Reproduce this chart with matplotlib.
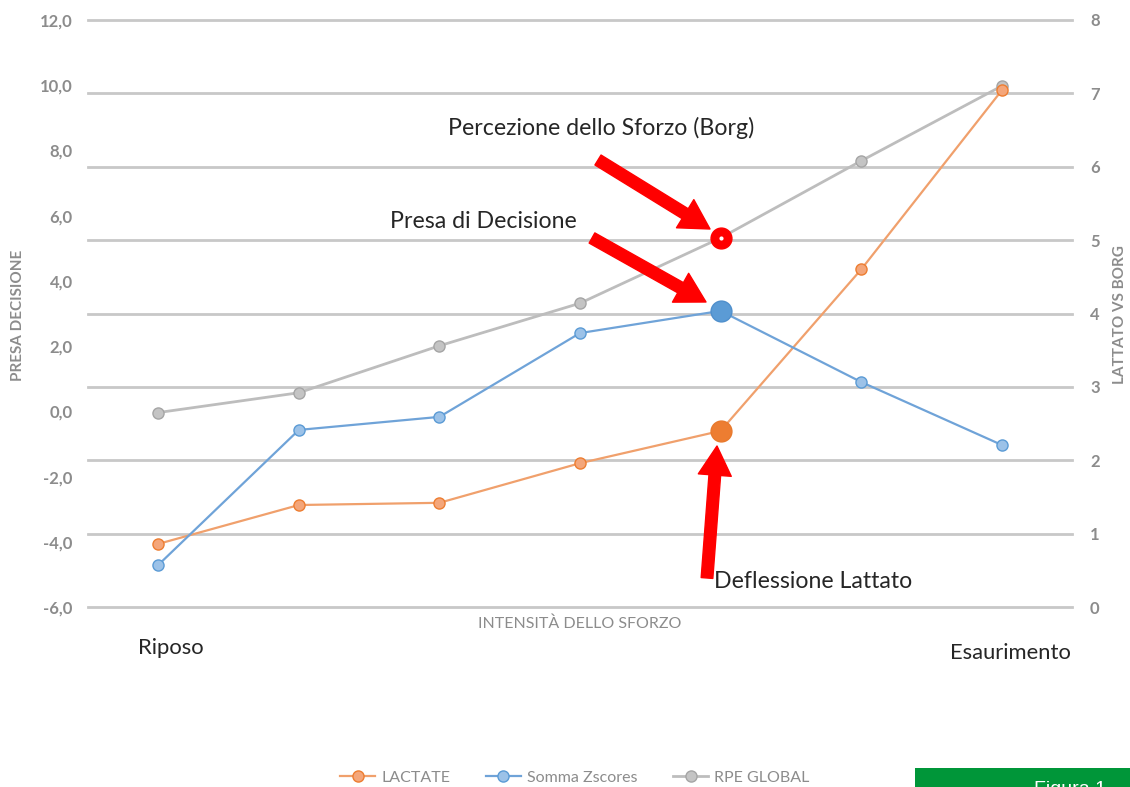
import matplotlib
matplotlib.use("Agg")
import matplotlib.pyplot as plt
from matplotlib.patches import Rectangle
from matplotlib.lines import Line2D

# ---- data ----
steps = [0, 1, 2, 3, 4, 5, 6]
end_labels = ["Riposo", "Esaurimento"]
lactate = [0.86, 1.39, 1.42, 1.96, 2.40, 4.60, 7.04]
zscores = [-4.71, -0.57, -0.17, 2.40, 3.08, 0.90, -1.03]
rpe = [2.65, 2.92, 3.56, 4.14, 5.03, 6.08, 7.10]
highlight = 4
left_ticks = [-6, -4, -2, 0, 2, 4, 6, 8, 10, 12]
right_ticks = [0, 1, 2, 3, 4, 5, 6, 7, 8]
series_names = ["LACTATE", "Somma Zscores", "RPE GLOBAL"]

W, H = 1130, 787
plt.rcParams['font.family'] = ['Lato', 'DejaVu Sans']
fig = plt.figure(figsize=(W / 100, H / 100), dpi=100)

ax = fig.add_axes([88 / W, 1 - 607 / H, 984 / W, 587 / H])
axl = ax.twinx()

GRAY_TXT = '#8c8c8c'
OR_LINE, OR_EDGE, OR_FILL = '#f0a06c', '#ed7d31', '#f4a67a'
BL_LINE, BL_EDGE, BL_FILL = '#6fa3d8', '#5b9bd5', '#9cc2e8'
GR_LINE, GR_EDGE, GR_FILL = '#bdbdbd', '#a5a5a5', '#c4c4c4'

# main (right) axis: 0..8 with gridlines
ax.set_xlim(-0.5, 6.5)
ax.set_ylim(0, 8)
ax.set_yticks(right_ticks)
ax.yaxis.tick_right()
ax.yaxis.set_label_position('right')
ax.grid(axis='y', color='#c8c8c8', linewidth=2)
for gl in ax.get_ygridlines():
    gl.set_clip_on(False)
ax.set_axisbelow(True)
ax.set_xticks([])
ax.tick_params(axis='y', length=0, pad=13, labelsize=12, labelcolor=GRAY_TXT)
for lab in ax.get_yticklabels():
    lab.set_fontweight('bold')
for s in ax.spines.values():
    s.set_visible(False)

# left axis
axl.set_ylim(-6, 12)
axl.set_yticks(left_ticks)
axl.set_yticklabels([f"{v:.1f}".replace('.', ',') for v in left_ticks])
axl.yaxis.tick_left()
axl.yaxis.set_label_position('left')
axl.tick_params(axis='y', length=0, pad=11, labelsize=12, labelcolor=GRAY_TXT)
for lab in axl.get_yticklabels():
    lab.set_fontweight('bold')
for s in axl.spines.values():
    s.set_visible(False)

# series
ax.plot(steps, rpe, color=GR_LINE, lw=2, marker='o', ms=8,
        mfc=GR_FILL, mec=GR_EDGE, mew=1, zorder=3)
ax.plot(steps, lactate, color=OR_LINE, lw=1.6, marker='o', ms=8,
        mfc=OR_FILL, mec=OR_EDGE, mew=1, zorder=4)
axl.plot(steps, zscores, color=BL_LINE, lw=1.6, marker='o', ms=8,
         mfc=BL_FILL, mec=BL_EDGE, mew=1, zorder=3)

# highlighted points
ax.plot([steps[highlight]], [rpe[highlight]], marker='o', ms=15, mfc='#ff0000',
        mec='#ff0000', mew=1, ls='none', zorder=6)
ax.plot([steps[highlight]], [rpe[highlight]], marker='o', ms=3, mfc='white',
        mec='white', mew=0, ls='none', zorder=7)
ax.plot([steps[highlight]], [lactate[highlight]], marker='o', ms=15,
        mfc=OR_EDGE, mec='#e8792c', mew=1, ls='none', zorder=6)
axl.plot([steps[highlight]], [zscores[highlight]], marker='o', ms=15,
         mfc=BL_EDGE, mec='#4f8fcc', mew=1, ls='none', zorder=6)

# axis titles
fig.text(18 / W, 1 - 315 / H, "PRESA DECISIONE", rotation=90, ha='center',
         va='center', fontsize=11, color=GRAY_TXT, fontweight='bold')
fig.text(1120 / W, 1 - 315 / H, "LATTATO VS BORG", rotation=90, ha='center',
         va='center', fontsize=11, color=GRAY_TXT, fontweight='bold')
fig.text(580 / W, 1 - 624 / H, "INTENSITÀ DELLO SFORZO", ha='center',
         va='center', fontsize=11.5, color=GRAY_TXT)

# end labels
for i, lab, dx, dy in [(steps[0], end_labels[0], 13, -41),
                       (steps[-1], end_labels[1], 9, -46)]:
    ax.annotate(lab, xy=(i, 0), xycoords=('data', 'axes fraction'),
                xytext=(dx, dy), textcoords='offset pixels', ha='center',
                va='center', fontsize=15.8, color='#262626', annotation_clip=False)

# annotations
def fp(x, y):
    return (x, H - y)

for txt, x, y in [("Percezione dello Sforzo (Borg)", 448, 128),
                  ("Presa di Decisione", 390, 221),
                  ("Deflessione Lattato", 714, 582)]:
    fig.text(x / W, 1 - y / H, txt, ha='left', va='center', fontsize=16.7,
             color='#262626')

for tail, tip in [((598, 160), (710, 229)),
                  ((592, 238), (706, 302)),
                  ((707, 578), (717, 446))]:
    ax.annotate('', xy=fp(*tip), xytext=fp(*tail), xycoords='figure pixels',
                textcoords='figure pixels', annotation_clip=False,
                arrowprops=dict(arrowstyle='simple,head_width=1.7,head_length=1.5,tail_width=0.6',
                                color='#ff0000', shrinkA=0, shrinkB=0,
                                mutation_scale=14))

# legend
handles = [
    Line2D([], [], color=OR_LINE, lw=1.6, marker='o', ms=8, mfc=OR_FILL, mec=OR_EDGE),
    Line2D([], [], color=BL_LINE, lw=1.6, marker='o', ms=8, mfc=BL_FILL, mec=BL_EDGE),
    Line2D([], [], color=GR_LINE, lw=2, marker='o', ms=8, mfc=GR_FILL, mec=GR_EDGE),
]
fig.legend(handles, series_names, loc='center', bbox_to_anchor=(575 / W, 1 - 778 / H),
           ncol=3, frameon=False, fontsize=11.5, labelcolor=GRAY_TXT,
           handlelength=2.2, columnspacing=2.2, handletextpad=0.4)

# Figura 1 box
fig.add_artist(Rectangle((915 / W, 0), 215 / W, 19 / H, transform=fig.transFigure,
                         facecolor='#009639', edgecolor='none'))
fig.text(1070 / W, -3 / H, "Figura 1", ha='center', va='center', fontsize=14,
         color='white', family=['Liberation Sans', 'DejaVu Sans'])

fig.savefig("out.png", dpi=100)
